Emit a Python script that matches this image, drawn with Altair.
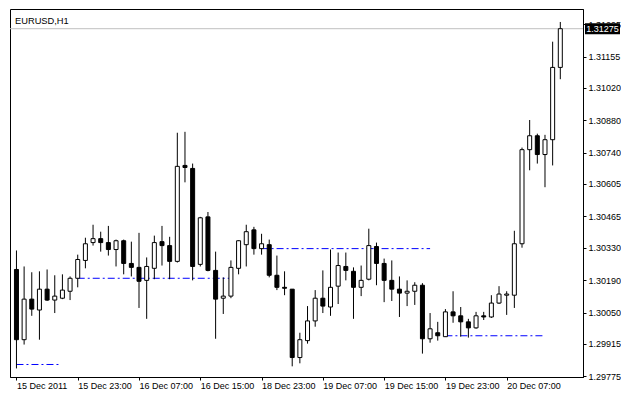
import altair as alt
import pandas as pd

# ---- data (EURUSD, H1) ----
opens = [1.30236, 1.29933, 1.30108, 1.30061, 1.30151, 1.30104, 1.30112, 1.30142, 1.30198, 1.30275,
         1.30352, 1.30369, 1.30352, 1.30322, 1.30360, 1.30262, 1.30245, 1.30189, 1.30241, 1.30356,
         1.30339, 1.30271, 1.30685, 1.30672, 1.30258, 1.30463, 1.30232, 1.30112, 1.30121, 1.30241,
         1.30343, 1.30407, 1.30326, 1.30343, 1.30211, 1.30159, 1.30151, 1.29856, 1.29929, 1.30014,
         1.30112, 1.30074, 1.30164, 1.30249, 1.30228, 1.30159, 1.30194, 1.30335, 1.30262, 1.30189,
         1.30151, 1.30134, 1.30142, 1.30168, 1.29937, 1.29963, 1.29946, 1.30053, 1.30036, 1.30010,
         1.29984, 1.30036, 1.30031, 1.30091, 1.30125, 1.30125, 1.30347, 1.30753, 1.30813, 1.30732,
         1.30796, 1.31108]
highs = [1.30318, 1.30249, 1.30224, 1.30228, 1.30236, 1.30211, 1.30215, 1.30206, 1.30300, 1.30373,
         1.30429, 1.30399, 1.30424, 1.30365, 1.30365, 1.30356, 1.30394, 1.30288, 1.30382, 1.30424,
         1.30377, 1.30826, 1.30830, 1.30693, 1.30463, 1.30484, 1.30313, 1.30202, 1.30275, 1.30362,
         1.30429, 1.30420, 1.30390, 1.30365, 1.30296, 1.30228, 1.30151, 1.29963, 1.30078, 1.30147,
         1.30232, 1.30322, 1.30309, 1.30309, 1.30245, 1.30253, 1.30412, 1.30352, 1.30283, 1.30275,
         1.30206, 1.30189, 1.30181, 1.30177, 1.30048, 1.30010, 1.30065, 1.30142, 1.30074, 1.30023,
         1.30053, 1.30053, 1.30125, 1.30164, 1.30142, 1.30403, 1.30762, 1.30881, 1.30822, 1.30817,
         1.31219, 1.31304]
lows = [1.29809, 1.29912, 1.30036, 1.29933, 1.30100, 1.30048, 1.30108, 1.30104, 1.30159, 1.30241,
        1.30339, 1.30313, 1.30296, 1.30249, 1.30215, 1.30206, 1.30070, 1.30023, 1.30194, 1.30253,
        1.30194, 1.30266, 1.30612, 1.30189, 1.30249, 1.30228, 1.29937, 1.30044, 1.30112, 1.30215,
        1.30249, 1.30300, 1.30300, 1.30202, 1.30147, 1.30125, 1.29818, 1.29831, 1.29916, 1.29989,
        1.30048, 1.30036, 1.30087, 1.30189, 1.30023, 1.30121, 1.30189, 1.30168, 1.30095, 1.30100,
        1.30031, 1.30078, 1.30083, 1.29873, 1.29920, 1.29929, 1.29946, 1.30006, 1.29946, 1.29942,
        1.29980, 1.30018, 1.30027, 1.30087, 1.30040, 1.30070, 1.30330, 1.30664, 1.30693, 1.30591,
        1.30685, 1.31057]
closes = [1.29933, 1.30108, 1.30065, 1.30151, 1.30104, 1.30121, 1.30147, 1.30198, 1.30279, 1.30347,
          1.30369, 1.30352, 1.30322, 1.30360, 1.30262, 1.30245, 1.30185, 1.30249, 1.30352, 1.30339,
          1.30271, 1.30681, 1.30676, 1.30249, 1.30459, 1.30232, 1.30108, 1.30121, 1.30245, 1.30360,
          1.30399, 1.30326, 1.30347, 1.30211, 1.30159, 1.30155, 1.29856, 1.29933, 1.30014, 1.30112,
          1.30078, 1.30159, 1.30253, 1.30232, 1.30159, 1.30189, 1.30339, 1.30262, 1.30189, 1.30151,
          1.30134, 1.30142, 1.30168, 1.29937, 1.29980, 1.29950, 1.30053, 1.30036, 1.30010, 1.29984,
          1.30036, 1.30031, 1.30091, 1.30130, 1.30130, 1.30347, 1.30753, 1.30813, 1.30732, 1.30796,
          1.31108, 1.31275]

x_tick_positions = [0, 8, 16, 24, 32, 40, 48, 56, 64]
x_tick_labels = ["15 Dec 2011", "15 Dec 23:00", "16 Dec 07:00", "16 Dec 15:00", "18 Dec 23:00",
                 "19 Dec 07:00", "19 Dec 15:00", "19 Dec 23:00", "20 Dec 07:00"]
y_tick_values = [1.29775, 1.29915, 1.30050, 1.30190, 1.30330, 1.30465, 1.30605,
                 1.30740, 1.30880, 1.31020, 1.31155, 1.31295]

level_prices = [1.29826, 1.30198, 1.30326, 1.29950]
level_start = [0, 8, 32, 56]
level_end = [5.5, 28, 54, 69]

current_price = [1.31275]
current_label = ["1.31275"]
symbol_title = "EURUSD,H1"

# ---- tables ----
candles = pd.DataFrame({"i": list(range(len(opens))), "open": opens, "high": highs,
                        "low": lows, "close": closes})
levels = pd.DataFrame({"price": level_prices, "start": level_start, "end": level_end})
cur = pd.DataFrame({"price": current_price, "label": current_label})

W, H = 573, 368
FONT = "Liberation Sans"

xscale = alt.Scale(domain=[-0.19, 73.31], nice=False, zero=False)
yscale = alt.Scale(domain=[1.29772, 1.31360], nice=False, zero=False)

lab_arr = "[" + ",".join("'%s'" % s for s in x_tick_labels) + "]"
pos_arr = "[" + ",".join(str(p) for p in x_tick_positions) + "]"
x_axis = alt.Axis(values=x_tick_positions, labelExpr=f"{lab_arr}[indexof({pos_arr}, datum.value)]",
                  labelAlign="left", labelBaseline="top", labelPadding=1, tickSize=3,
                  labelOverlap=False, labelFlush=False, title=None, grid=False, orient="bottom")
y_axis = alt.Axis(values=y_tick_values, format=".5f", orient="right", tickSize=3,
                  labelPadding=2, labelOverlap=False, labelFlush=False, title=None, grid=False)


def X(field):
    return alt.X(field, scale=xscale, axis=x_axis, title=None)


def Y(field):
    return alt.Y(field, scale=yscale, axis=y_axis, title=None)


base = alt.Chart(candles)

bodies = base.mark_bar(size=4, stroke="black", strokeWidth=1, clip=True).encode(
    x=X("i:Q"), y=Y("open:Q"), y2="close:Q",
    fill=alt.condition("datum.close >= datum.open", alt.value("white"), alt.value("black")))

gray_line = alt.Chart(cur).mark_rule(color="#c0c0c0", strokeWidth=1).encode(y=Y("price:Q"))

level_lines = alt.Chart(levels).mark_rule(color="#0000ff", strokeWidth=1,
                                          strokeDash=[7, 3, 2, 3]).encode(
    x=X("start:Q"), x2="end:Q", y=Y("price:Q"))

wicks = base.mark_rule(color="black", strokeWidth=1, clip=True).encode(
    x=X("i:Q"), y=Y("low:Q"), y2="high:Q")

title_txt = alt.Chart(cur).mark_text(align="left", baseline="alphabetic", font=FONT,
                                     fontSize=9.3, color="black").encode(
    x=alt.value(5), y=alt.value(15), text=alt.value(symbol_title))

box_path = "M-1,-0.3143L1,-0.3143L1,0.3143L-1,0.3143Z"
price_box = alt.Chart(cur).mark_point(shape=box_path, size=35 * 35, filled=True,
                                      color="black", opacity=1).encode(
    x=alt.value(W + 19.5), y=Y("price:Q"))
price_txt = alt.Chart(cur).mark_text(align="center", baseline="middle", font=FONT,
                                     fontSize=9, color="white").encode(
    x=alt.value(W + 19.5), y=Y("price:Q"), text="label:N")

chart = alt.layer(gray_line, level_lines, wicks, bodies, title_txt, price_box, price_txt).properties(
    width=W, height=H,
    autosize=alt.AutoSizeParams(type="none"),
    padding={"left": 2, "top": 1, "right": 38, "bottom": 14},
    background="white",
).configure_view(stroke="black", strokeWidth=1).configure_axis(
    labelFont=FONT, labelFontSize=9, labelColor="black", tickColor="black",
    domainColor="black", domainWidth=1, tickWidth=1)

chart.save("out.html", embed_options={"renderer": "svg", "actions": False})
